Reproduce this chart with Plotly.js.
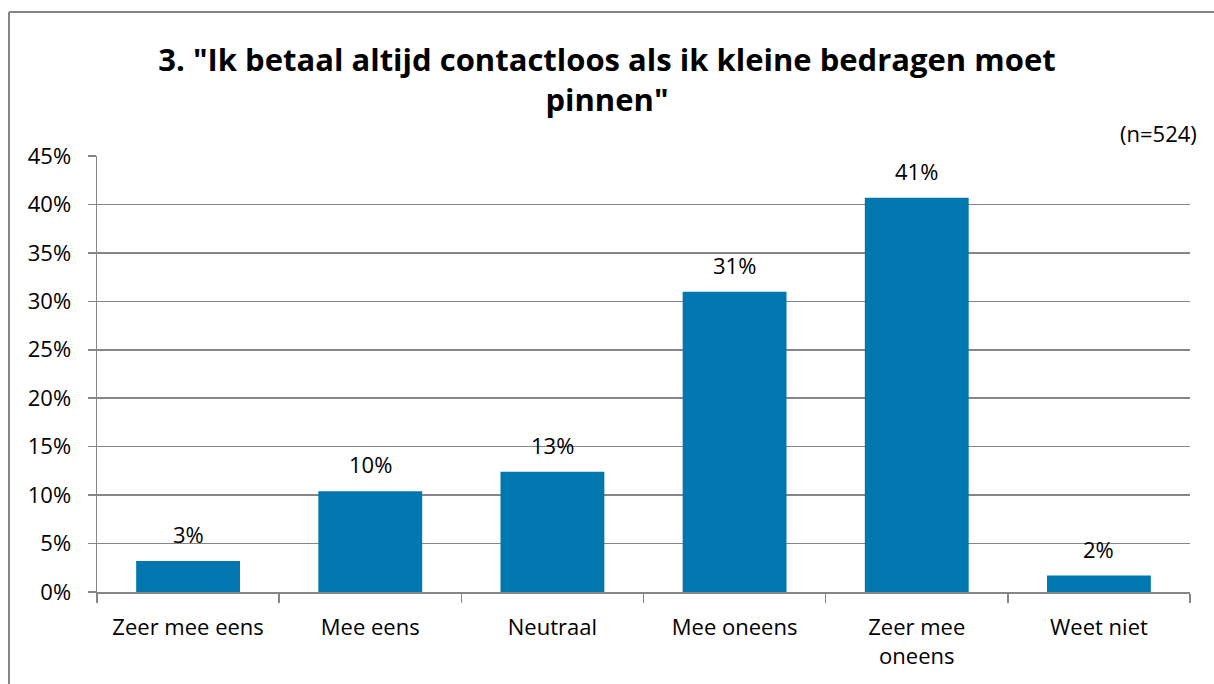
<!DOCTYPE html>
<html>
<head>
<meta charset="utf-8">
<script src="https://cdn.plot.ly/plotly-3.0.1.min.js"></script>
<style>
html,body{margin:0;padding:0;overflow:hidden;background:#fff;}
#chart{width:1214px;height:684px;}
</style>
</head>
<body>
<div id="chart"></div>
<script>
const categories = ["Zeer mee eens", "Mee eens", "Neutraal", "Mee oneens", "Zeer mee<br>oneens", "Weet niet"];
const values = [3.2, 10.4, 12.4, 31.0, 40.7, 1.7];
const labels = ["3%", "10%", "13%", "31%", "41%", "2%"];
const yTickVals = [0, 5, 10, 15, 20, 25, 30, 35, 40, 45];
const yTickText = ["0%", "5%", "10%", "15%", "20%", "25%", "30%", "35%", "40%", "45%"];

const FONT = "'Open Sans', Lato, sans-serif";
const FS = 22;
const W = 1214, H = 684;
const m = {l: 97, r: 24, t: 156, b: 92};
const pw = W - m.l - m.r, ph = H - m.t - m.b;
const px = x => (x - m.l) / pw;
const py = y => 1 - (y - m.t) / ph;

const trace = {
  type: "bar",
  x: categories,
  y: values,
  marker: {color: "#0077AE"},
  hoverinfo: "none"
};

const labelAnnotations = categories.map((c, i) => ({
  x: c, y: values[i], xref: "x", yref: "y",
  text: labels[i], showarrow: false,
  xanchor: "center", yanchor: "bottom", yshift: 10,
  font: {family: FONT, size: FS, color: "#000"}
}));

const layout = {
  width: W, height: H,
  margin: m,
  paper_bgcolor: "#fff",
  plot_bgcolor: "#fff",
  showlegend: false,
  bargap: 0.43,
  font: {family: FONT, size: FS, color: "#000"},
  title: {
    text: "<b>3. \"Ik betaal altijd contactloos als ik kleine bedragen moet<br>pinnen\"</b>",
    font: {family: FONT, size: 31, color: "#000"},
    x: 0.5, xanchor: "center",
    y: 1 - 71/H, yref: "container", yanchor: "top"
  },
  xaxis: {
    type: "category",
    showgrid: false,
    showline: true, linecolor: "#868686", linewidth: 1.5,
    ticks: "outside", tickson: "boundaries", ticklen: 9, tickcolor: "#868686", tickwidth: 1.5,
    tickfont: {family: FONT, size: FS, color: "#000"},
    ticklabelstandoff: 15,
    fixedrange: true
  },
  yaxis: {
    range: [0, 45],
    tickvals: yTickVals,
    ticktext: yTickText,
    showgrid: true, gridcolor: "#868686", gridwidth: 1.5,
    showline: true, linecolor: "#868686", linewidth: 1.5,
    ticks: "outside", ticklen: 8, tickcolor: "#868686", tickwidth: 1.5,
    tickfont: {family: FONT, size: FS, color: "#000"},
    ticklabelstandoff: 12,
    zeroline: false,
    fixedrange: true
  },
  annotations: labelAnnotations.concat([{
    text: "(n=524)",
    xref: "paper", yref: "paper",
    x: px(1199), y: py(133),
    xanchor: "right", yanchor: "middle",
    showarrow: false,
    font: {family: FONT, size: FS, color: "#000"}
  }]),
  shapes: [
    {type: "line", xref: "paper", yref: "paper", x0: px(9), x1: px(9), y0: py(12), y1: py(700), line: {color: "#868686", width: 2}},
    {type: "line", xref: "paper", yref: "paper", x0: px(9), x1: px(1230), y0: py(12), y1: py(12), line: {color: "#868686", width: 2}}
  ]
};

Plotly.newPlot("chart", [trace], layout, {displayModeBar: false, staticPlot: true});
</script>
</body>
</html>
